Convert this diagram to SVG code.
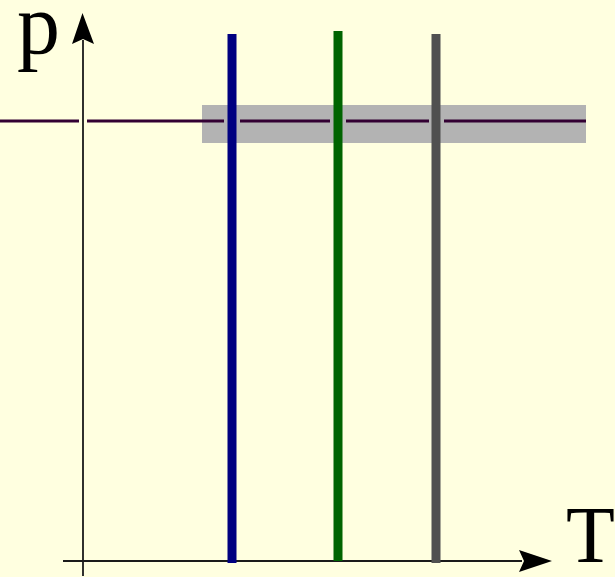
<svg xmlns="http://www.w3.org/2000/svg" width="615" height="577" viewBox="0 0 615 577">
<style>
.axis{stroke:#1a1a1a;stroke-width:1.8;fill:none}
.head{fill:#000}
.hline{stroke:#330033;stroke-width:3.2;fill:none}
.v{stroke-width:9;fill:none}
.lbl{font-family:"Liberation Serif","Times New Roman",serif;fill:#000}
</style>
<rect width="615" height="577" fill="#ffffe0"/>
<g id="band"><rect x="202" y="105" width="384" height="38" fill="#b3b3b3"/></g>
<g id="connectors">
<path class="hline" d="M0 121H79M87 121H224M240 121H330M346 121H429M444 121H586"/>
<line class="axis" x1="83" y1="576" x2="83" y2="40"/>
<polygon class="head" points="82.5,13 94,44 83,39 72,44"/>
<line class="axis" x1="63" y1="561" x2="522" y2="561"/>
<polygon class="head" points="552,561 519,572 524,561 519,550"/>
</g>
<g id="blue"><line class="v" x1="232" y1="34" x2="232" y2="563" stroke="#000080"/></g>
<g id="green"><line class="v" x1="338" y1="31" x2="338" y2="561" stroke="#006400"/></g>
<g id="gray"><line class="v" x1="436" y1="34" x2="436" y2="563" stroke="#505050"/></g>
<g id="labels">
<text class="lbl" x="17" y="53" font-size="86">p</text>
<text class="lbl" x="566" y="562" font-size="80">T</text>
</g>
</svg>
